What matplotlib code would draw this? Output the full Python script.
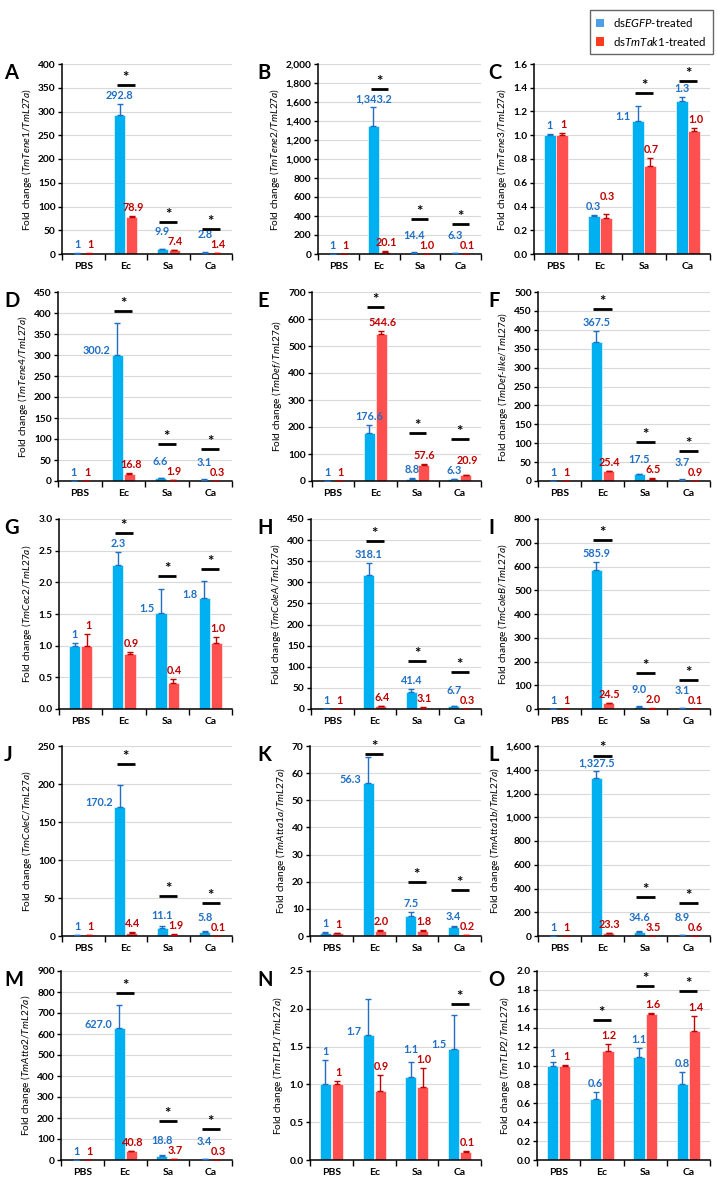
import numpy as np
import matplotlib.pyplot as plt
from matplotlib.patches import Patch
from matplotlib.ticker import FuncFormatter

plt.rcParams['font.family'] = 'Lato'
plt.rcParams['mathtext.fontset'] = 'custom'
plt.rcParams['mathtext.it'] = 'Lato:italic'
plt.rcParams['mathtext.rm'] = 'Lato'

groups = ['PBS', 'Ec', 'Sa', 'Ca']
letters = list('ABCDEFGHIJKLMNO')
genes = ['TmTene1', 'TmTene2', 'TmTene3', 'TmTene4', 'TmDef', 'TmDef-like',
         'TmCec2', 'TmColeA', 'TmColeB', 'TmColeC', 'TmAtta1a', 'TmAtta1b',
         'TmAtta2', 'TmTLP1', 'TmTLP2']
y_max = [400, 2000, 1.6, 450, 700, 500, 3.0, 450, 800, 250, 70, 1600, 900, 2.5, 2.0]
y_step = [50, 200, 0.2, 50, 100, 50, 0.5, 50, 100, 50, 10, 200, 100, 0.5, 0.2]

# dsEGFP-treated
egfp = [[1, 292.8, 9.9, 2.8], [1, 1343.2, 14.4, 6.3], [1.0, 0.32, 1.12, 1.29],
        [1, 300.2, 6.6, 3.1], [1, 176.6, 8.8, 6.3], [1, 367.5, 17.5, 3.7],
        [1.0, 2.28, 1.52, 1.75], [1, 318.1, 41.4, 6.7], [1, 585.9, 9.0, 3.1],
        [1, 170.2, 11.1, 5.8], [1, 56.3, 7.5, 3.4], [1, 1327.5, 34.6, 8.9],
        [1, 627.0, 18.8, 3.4], [1.0, 1.65, 1.10, 1.47], [1.0, 0.65, 1.09, 0.80]]
egfp_err = [[0.3, 22, 1.5, 0.5], [0, 202, 10, 5], [0.01, 0.01, 0.13, 0.03],
            [0, 77, 1.0, 0.5], [0, 30, 2, 1], [0, 30, 1.5, 0.5],
            [0.04, 0.20, 0.37, 0.27], [0, 27, 6, 0.5], [0, 35, 2, 0.5],
            [0, 29, 1.5, 0.5], [0.3, 9.5, 1.5, 0.3], [0, 60, 5, 1],
            [0, 113, 3, 0.5], [0.32, 0.48, 0.19, 0.45], [0.04, 0.07, 0.10, 0.13]]
egfp_lbl = [['1', '292.8', '9.9', '2.8'], ['1', '1,343.2', '14.4', '6.3'], ['1', '0.3', '1.1', '1.3'],
            ['1', '300.2', '6.6', '3.1'], ['1', '176.6', '8.8', '6.3'], ['1', '367.5', '17.5', '3.7'],
            ['1', '2.3', '1.5', '1.8'], ['1', '318.1', '41.4', '6.7'], ['1', '585.9', '9.0', '3.1'],
            ['1', '170.2', '11.1', '5.8'], ['1', '56.3', '7.5', '3.4'], ['1', '1,327.5', '34.6', '8.9'],
            ['1', '627.0', '18.8', '3.4'], ['1', '1.7', '1.1', '1.5'], ['1', '0.6', '1.1', '0.8']]

# dsTmTak1-treated
tak1 = [[1, 78.9, 7.4, 1.4], [1, 20.1, 1.0, 0.1], [1.0, 0.30, 0.74, 1.04],
        [1, 16.8, 1.9, 0.3], [1, 544.6, 57.6, 20.9], [1, 25.4, 6.5, 0.9],
        [1.0, 0.87, 0.41, 1.05], [1, 6.4, 3.1, 0.3], [1, 24.5, 2.0, 0.1],
        [1, 4.4, 1.9, 0.1], [1, 2.0, 1.8, 0.2], [1, 23.3, 3.5, 0.6],
        [1, 40.8, 3.7, 0.3], [1.0, 0.91, 0.96, 0.11], [1.0, 1.15, 1.55, 1.37]]
tak1_err = [[0.3, 1.5, 1.5, 0.3], [0, 10, 0.5, 0.1], [0.015, 0.035, 0.07, 0.02],
            [0, 2, 0.3, 0.1], [0, 12, 6, 1], [0, 1.5, 0.8, 0.2],
            [0.18, 0.03, 0.07, 0.09], [0, 1, 0.5, 0.1], [0, 2, 0.5, 0.05],
            [0, 0.6, 0.3, 0.05], [0.2, 0.3, 0.3, 0.05], [0, 3, 0.5, 0.1],
            [0, 3, 0.5, 0.1], [0.05, 0.22, 0.26, 0.01], [0.01, 0.08, 0.005, 0.15]]
tak1_lbl = [['1', '78.9', '7.4', '1.4'], ['1', '20.1', '1.0', '0.1'], ['1', '0.3', '0.7', '1.0'],
            ['1', '16.8', '1.9', '0.3'], ['1', '544.6', '57.6', '20.9'], ['1', '25.4', '6.5', '0.9'],
            ['1', '0.9', '0.4', '1.0'], ['1', '6.4', '3.1', '0.3'], ['1', '24.5', '2.0', '0.1'],
            ['1', '4.4', '1.9', '0.1'], ['1', '2.0', '1.8', '0.2'], ['1', '23.3', '3.5', '0.6'],
            ['1', '40.8', '3.7', '0.3'], ['1', '0.9', '1.0', '0.1'], ['1', '1.2', '1.6', '1.4']]

# height of the significance bar per group (None = not significant)
sig_y = [[None, 355, 68, 52], [None, 1735, 370, 315], [None, None, 1.36, 1.46],
         [None, 405, 88, 77], [None, 645, 178, 157], [None, 456, 102, 80],
         [None, 2.78, 2.10, 2.21], [None, 398, 114, 87], [None, 710, 150, 123],
         [None, 226, 52, 43], [None, 67, 20, 17], [None, 1520, 330, 280],
         [None, 797, 185, 148], [None, None, None, 2.07], [None, 1.48, 1.84, 1.79]]

# blue labels drawn beside the bar instead of on top
side_lbl = {2: [2], 3: [1], 6: [2, 3], 9: [1], 10: [1], 12: [1], 13: [1, 3]}

blue, red = '#00B0F0', '#FF5050'
blue_txt, red_txt = '#1F6FC5', '#C00000'
val_fs = 7.8

W, H = 717, 1181
fig = plt.figure(figsize=(W / 100, H / 100), dpi=100)

rows = [(64, 254), (292, 481), (519, 709), (746, 936), (971, 1160)]
lefts = [[62, 318, 534], [58, 312, 538], [59, 311, 538], [62, 310, 538], [61, 310, 537]]
rights = [232, 481, 710]
letter_x = [4, 257, 488]

x = np.arange(4)
bw, off = 0.26, 0.14


def fmt_for(step, top):
    if step < 1:
        return FuncFormatter(lambda v, p: f'{v:.1f}')
    if top >= 1000:
        return FuncFormatter(lambda v, p: f'{v:,.0f}')
    return FuncFormatter(lambda v, p: f'{v:.0f}')


def txt_w(s):
    # rough rendered width in pixels of a bold value label
    return sum(2.6 if ch in '.,' else 5.8 for ch in s)


for i in range(15):
    r, c = divmod(i, 3)
    t, b = rows[r]
    l, rr = lefts[r][c], rights[c]
    ax = fig.add_axes([l / W, 1 - b / H, (rr - l) / W, (b - t) / H])
    ymax = y_max[i]
    ppu = (b - t) / ymax  # pixels per data unit
    ppx = (rr - l) / 4.0  # pixels per category

    ax.bar(x - off, egfp[i], bw, color=blue, edgecolor='white', linewidth=0.4, zorder=2)
    ax.bar(x + off, tak1[i], bw, color=red, edgecolor='white', linewidth=0.4, zorder=2)
    ax.errorbar(x - off, egfp[i], yerr=[np.zeros(4), egfp_err[i]], fmt='none',
                ecolor=blue_txt, elinewidth=1, capsize=2, capthick=1, zorder=3)
    ax.errorbar(x + off, tak1[i], yerr=[np.zeros(4), tak1_err[i]], fmt='none',
                ecolor=red_txt, elinewidth=1, capsize=2, capthick=1, zorder=3)

    for j in range(4):
        lb, lr = egfp_lbl[i][j], tak1_lbl[i][j]
        yr = (tak1[i][j] + tak1_err[i][j]) * ppu + 3
        if j in side_lbl.get(i, []):
            ax.text(x[j] - off - bw / 2 - 0.03, egfp[i][j] + 4 / ppu, lb, ha='right', va='center',
                    color=blue_txt, fontsize=val_fs, fontweight='bold', zorder=4)
        else:
            yb = (egfp[i][j] + egfp_err[i][j]) * ppu + 3
            gap = (2 * off + 0.03) * ppx
            if abs(yb - yr) < 10 and (txt_w(lb) + txt_w(lr)) / 2 > gap - 1.5:
                if yb >= yr:
                    yb = yr + 10
                else:
                    yr = yb + 10
            ax.text(x[j] - off, yb / ppu, lb, ha='center', va='bottom',
                    color=blue_txt, fontsize=val_fs, fontweight='bold', zorder=4)
        ax.text(x[j] + off + 0.03, yr / ppu, lr, ha='center', va='bottom',
                color=red_txt, fontsize=val_fs, fontweight='bold', zorder=4)

        sy = sig_y[i][j]
        if sy is not None:
            ax.plot([x[j] - 0.21, x[j] + 0.21], [sy, sy], color='black', lw=2,
                    solid_capstyle='butt', zorder=4, clip_on=False)
            ax.text(x[j], sy + 3.0 / ppu, '*', ha='center', va='baseline', fontsize=11,
                    fontweight='bold', zorder=4, clip_on=False)

    ax.set_xlim(-0.5, 3.5)
    ax.set_ylim(0, ymax)
    ax.set_yticks(np.arange(0, ymax + y_step[i] / 2, y_step[i]))
    ax.yaxis.set_major_formatter(fmt_for(y_step[i], ymax))
    ax.set_xticks(np.arange(-0.5, 4, 1))
    ax.set_xticklabels([])
    ax.set_xticks(x, minor=True)
    ax.set_xticklabels(groups, minor=True)
    ax.tick_params(axis='x', which='major', length=4, width=1, direction='out')
    ax.tick_params(axis='x', which='minor', length=0, pad=5.5, labelsize=7.5)
    ax.tick_params(axis='y', length=3, width=1, pad=1.5, labelsize=7.3)
    for lab in ax.get_xticklabels(minor=True) + ax.get_yticklabels():
        lab.set_fontweight('bold')
    ax.grid(axis='y', color='#D9D9D9', lw=0.8, zorder=0)
    ax.set_axisbelow(True)
    for s in ['top', 'right']:
        ax.spines[s].set_visible(False)
    ax.spines['left'].set_linewidth(1.1)
    ax.spines['bottom'].set_linewidth(1.1)

    g = genes[i]
    if '-' in g:
        a, bpart = g.split('-')
        ylab = r'Fold change ($\mathit{' + a + r'}$-$\mathit{' + bpart + r'/TmL27a}$)'
    else:
        ylab = r'Fold change ($\mathit{' + g + r'/TmL27a}$)'
    ax.set_ylabel(ylab, fontsize=7.3, labelpad=3)

    fig.text(letter_x[c] / W, 1 - (t - 1) / H, letters[i], fontsize=14.5,
             fontweight='bold', ha='left', va='top')

handles = [Patch(facecolor='#4F9FE6', edgecolor='none'), Patch(facecolor='#FF3B1F', edgecolor='none')]
labels = [r'ds$\mathit{EGFP}$-treated', r'ds$\mathit{TmTak1}$-treated']
leg = fig.legend(handles, labels, loc='upper right', bbox_to_anchor=(713 / W, 1 - 10 / H),
                 frameon=True, fancybox=False, edgecolor='#404040', fontsize=8.3,
                 handlelength=0.7, handleheight=0.7, borderpad=0.55, labelspacing=0.45,
                 handletextpad=0.8, borderaxespad=0)
leg.get_frame().set_linewidth(1)

fig.savefig('out.png', dpi=100)
